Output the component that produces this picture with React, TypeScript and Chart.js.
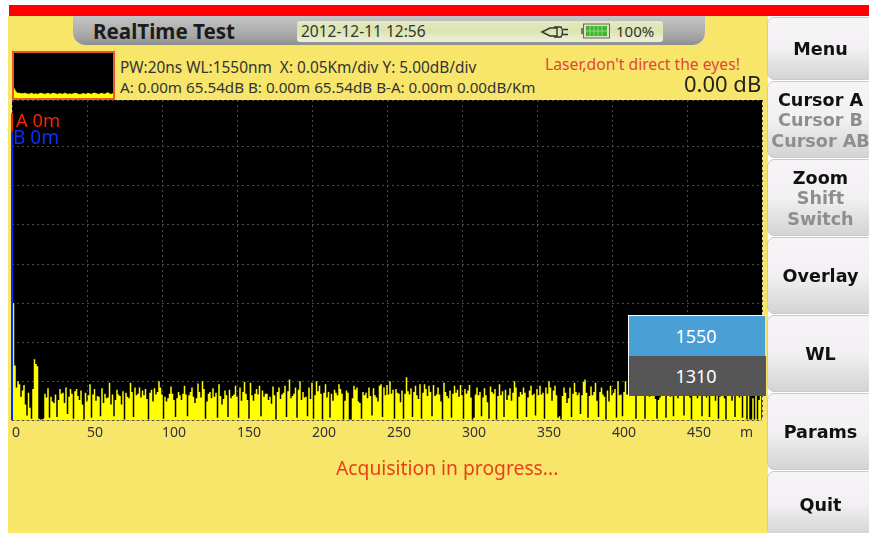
import React, { useEffect, useRef } from "react";
import { Chart, registerables } from "chart.js";

Chart.register(...registerables);

const traceDb = [
  15.2, 15, 7, 4.2, 5, 4.6, 3, 3.8, 4.5, 2, 0.6, 3.5, 1.6, 0.2, 4, 7.8, 7.2, 6.9, 0.2, 0.1,
  0.1, 0.2, 3.4, 2.9, 4.1, 0.3, 3, 2.4, 2.2, 3.3, 0.4, 2.6, 4, 3.4, 3.5, 2.2, 4.2, 0.8, 3, 4,
  3.4, 0.2, 3.7, 4, 3.1, 2.6, 3.8, 2, 0.1, 3.5, 2.4, 3.2, 4.6, 0.3, 3.3, 4, 2.5, 3.1, 3, 0.5,
  4.1, 2.2, 3.4, 2.8, 2.9, 4.8, 2, 3.3, 0.5, 2.6, 3.9, 3.3, 3.1, 2, 3.7, 0.1, 3.5, 3, 2.8, 4.8,
  3.6, 0.4, 4.2, 3.2, 3.4, 4.2, 2.9, 3.8, 3.2, 4, 2.7, 0.1, 3.5, 3.9, 2.4, 4.1, 3.3, 3.6, 5, 4.2,
  3.3, 0.2, 3, 2.4, 2.8, 3.4, 4.3, 3.4, 2.6, 0.4, 2.8, 3.6, 3.2, 2.6, 3.4, 4.4, 3.3, 0.5, 3.2, 3.6,
  4.2, 3, 2.2, 2.8, 4.7, 3.6, 2.9, 5, 4, 0.2, 2.4, 3.4, 3.6, 2.8, 4.1, 3, 3.5, 0.3, 4.6, 3.1,
  2, 2.7, 3.8, 3.2, 0.4, 3.9, 2.8, 3.1, 3.3, 4.4, 3, 0.3, 4.2, 2.5, 3.6, 4.9, 3.4, 2.6, 0.2, 4.8,
  3.2, 2.5, 3.4, 4, 3.3, 4.4, 0.5, 3.8, 3, 3.4, 3.4, 2.6, 3, 2.1, 4.3, 3.2, 0.1, 3.6, 4.2, 2.7,
  3.3, 3.5, 4.4, 0.4, 3.7, 5.2, 2.8, 3.1, 3.4, 4.2, 0.3, 3.9, 5, 2.6, 3.6, 2.9, 3, 0.5, 4.2, 2.7,
  4.8, 0.2, 3.2, 5, 3.7, 4.4, 3.4, 0.1, 3.5, 4.6, 2.9, 3.6, 0.3, 3.4, 2.5, 3.9, 3.5, 3.2, 4.6, 4,
  3.4, 0.1, 2.5, 3.8, 3.5, 0.1, 0.1, 2.8, 4.4, 3.9, 4.2, 2.4, 2.2, 0.2, 3.6, 3.2, 3.5, 2.8, 4.2, 3.1,
  0.6, 4.1, 3.2, 2.9, 2.4, 4.4, 4.6, 0.4, 4.2, 3.2, 4.5, 3.3, 5, 3.4, 3.9, 0.2, 4, 3.5, 3.4, 2.3,
  3.8, 0.2, 3.4, 5.5, 3.7, 3.3, 4.1, 0.4, 3.6, 4.4, 3.2, 2.7, 4.6, 0.2, 3.5, 4.6, 4, 3.1, 4.4, 3.6,
  0.5, 4.5, 3.1, 3.3, 4.2, 3.3, 2.4, 0.1, 4.8, 3.6, 3.1, 2.8, 3.8, 0.3, 3.4, 4.4, 3.5, 3.9, 3, 4.5,
  3.2, 0.2, 4, 3.4, 3.8, 4.5, 2.9, 0.1, 0.3, 3.3, 4.2, 3.2, 3.6, 0.5, 2.9, 4.1, 3.2, 2.3, 0.2, 4.3,
  3.6, 3.4, 4, 0.1, 3.1, 4.6, 3.2, 3.7, 0.4, 3.9, 2.6, 3.2, 4.1, 2.5, 3.5, 5, 4.2, 0.2, 3, 3.6,
  3.3, 4.2, 3.5, 0.4, 2.9, 3.8, 4.4, 3.2, 3.4, 0.6, 4, 3.2, 4.4, 3.3, 3.5, 0.2, 4.2, 3.4, 5, 4.2,
  2.5, 3.8, 4.4, 3.2, 0.3, 0.5, 0.1, 3.1, 4.2, 3.5, 2.2, 2.8, 4.2, 0.4, 3.4, 4.8, 3.6, 3.2, 3.5, 0.8,
  3.2, 4.9, 5.2, 3.5, 0.3, 3.1, 4.3, 3.2, 3.6, 4.8, 2.5, 0.4, 3.6, 4.2, 3.3, 3, 0.1, 3.8, 2.4, 4.4,
  3.2, 3.5, 4, 0.3, 5, 3.2, 3.3, 0.5, 3.6, 5, 3.3, 3.2, 3.9, 4, 5.8, 4.5, 0.2, 3.4, 4.8, 3.4, 4.2,
  3.3, 0.2, 4.4, 3.3, 3, 3.6, 3.4, 3.9, 2.7, 0.2, 2.6, 2.9, 3.6, 3.1, 3.2, 0.3, 3.5, 3.4, 3, 3.7,
  0.5, 3.4, 3.1, 2.8, 3.8, 3.2, 3.3, 0.6, 3.1, 3.3, 3.6, 2.9, 0.1, 3.4, 3.3, 3.7, 2.8, 3.2, 3.2, 0.5,
  3.5, 3.1, 2.9, 3.6, 0.4, 3.1, 3.3, 3.4, 2.5, 3.7, 0.2, 3, 3.4, 3.5, 2.8, 0.1, 3.3, 3.3, 3.6, 2.5,
  3.2, 0.4, 3.7, 3.1, 2.9, 3.4, 0.3, 3.5, 3.5, 0.1, 3.1, 0.1, 0.1, 2.8, 0.1, 3.3, 0.1, 2.6, 3.2, 0.1,
];

const overviewDb = [
  9, 6, 4.5, 4.5, 4, 4, 4.5, 4, 3.5, 4, 4.5, 3.5, 4, 3.5, 4, 4.5, 4, 3.5, 4, 4.5,
  3.5, 4, 4.5, 4, 3.5, 4, 4, 3.5, 4.5, 4, 3.5, 4, 3.5, 4, 4.5, 4, 3.5, 3.5, 4, 4,
  3.5, 4.5, 4, 3.5, 4.5, 4.5, 4, 3.5, 4, 4.5, 3.5, 4, 5, 4, 3.5, 4,
];

const cursorA = [39.3, 37];
const cursorB = [37, 0];
const wavelengths = ["1550", "1310"];
const buttons = [
  { top: 17, h: 63, lines: [{ t: "Menu", on: true }] },
  { top: 81, h: 77, lines: [{ t: "Cursor A", on: true }, { t: "Cursor B", on: false }, { t: "Cursor AB", on: false }] },
  { top: 159, h: 77, lines: [{ t: "Zoom", on: true }, { t: "Shift", on: false }, { t: "Switch", on: false }] },
  { top: 237, h: 77, lines: [{ t: "Overlay", on: true }] },
  { top: 315, h: 77, lines: [{ t: "WL", on: true }] },
  { top: 393, h: 77, lines: [{ t: "Params", on: true }] },
  { top: 471, h: 66, lines: [{ t: "Quit", on: true }] },
];

const UI = '"Noto Sans", "Open Sans", sans-serif';
const YEL = "#f8e66a";

const blackPlot = {
  id: "blackPlot",
  beforeDraw(c: any) {
    const a = c.chartArea;
    c.ctx.save();
    c.ctx.fillStyle = "#000";
    c.ctx.fillRect(a.left, a.top, a.right - a.left, a.bottom - a.top);
    c.ctx.restore();
  },
};

function T(p: { x: number; y: number; s: number; c?: string; b?: boolean; f?: string; text: string }) {
  return (
    <div
      style={{
        position: "absolute",
        left: p.x,
        top: p.y,
        fontSize: p.s,
        lineHeight: 1,
        color: p.c || "#222",
        fontWeight: p.b ? 700 : 400,
        fontFamily: p.f || UI,
        whiteSpace: "pre",
      }}
    >
      {p.text}
    </div>
  );
}

export default function App() {
  const mainRef = useRef<HTMLCanvasElement>(null);
  const miniRef = useRef<HTMLCanvasElement>(null);

  useEffect(() => {
    const main = new Chart(mainRef.current!, {
      type: "line",
      data: {
        datasets: [
          {
            data: traceDb.map((v, i) => ({ x: i, y: v })),
            borderColor: "#ffff00",
            backgroundColor: "#ffff00",
            borderWidth: 0,
            fill: "origin",
            pointRadius: 0,
            stepped: "middle",
            order: 3,
          },
          {
            data: cursorA.map((v) => ({ x: 0, y: v })),
            borderColor: "#ff2000",
            borderWidth: 2,
            pointRadius: 0,
            clip: false,
            order: 2,
          },
          {
            data: cursorB.map((v) => ({ x: 0, y: v })),
            borderColor: "#0030ff",
            borderWidth: 2,
            pointRadius: 0,
            clip: false,
            order: 1,
          },
        ],
      } as any,
      options: {
        animation: false,
        responsive: false,
        events: [],
        layout: { padding: { left: 12, top: 100, right: 107, bottom: 88 } },
        plugins: { legend: { display: false }, tooltip: { enabled: false } },
        scales: {
          x: {
            type: "linear",
            min: 0,
            max: 500,
            border: { display: false, dash: [2, 3] },
            grid: { color: "#4a4a4a", lineWidth: 1, drawTicks: false },
            ticks: {
              stepSize: 50,
              align: "start",
              autoSkip: false,
              maxRotation: 0,
              padding: 4,
              color: "#333",
              font: { family: UI, size: 14 },
              callback: (v: any) => (v === 500 ? "" : String(v)),
            },
          },
          y: {
            type: "linear",
            min: 0,
            max: 41,
            border: { display: false, dash: [2, 3] },
            grid: { color: "#4a4a4a", lineWidth: 1, drawTicks: false },
            ticks: { stepSize: 5, display: false },
          },
        },
      } as any,
      plugins: [blackPlot],
    });

    const mini = new Chart(miniRef.current!, {
      type: "line",
      data: {
        labels: overviewDb.map((_, i) => i),
        datasets: [
          {
            data: overviewDb,
            borderColor: "#ffff00",
            backgroundColor: "#ffff00",
            borderWidth: 0.5,
            fill: "origin",
            pointRadius: 0,
          },
        ],
      },
      options: {
        animation: false,
        responsive: false,
        events: [],
        plugins: { legend: { display: false }, tooltip: { enabled: false } },
        scales: {
          x: { display: false, offset: false },
          y: { display: false, min: 0, max: 41 },
        },
      } as any,
      plugins: [blackPlot],
    });

    return () => {
      main.destroy();
      mini.destroy();
    };
  }, []);

  return (
    <div style={{ position: "fixed", inset: 0, background: "#fff", overflow: "hidden" }}>
      <div style={{ position: "absolute", left: 8, top: 16, width: 760, height: 517, background: YEL }} />
      <div style={{ position: "absolute", left: 9, top: 5, width: 860, height: 11, background: "#ff0000" }} />

      <div
        style={{
          position: "absolute",
          left: 73,
          top: 16,
          width: 632,
          height: 29,
          borderRadius: "0 0 13px 13px",
          background: "linear-gradient(#c4c4c4, #a6a6a6 70%, #8e8e8e)",
          borderBottom: "1px solid #e8e2a8",
        }}
      />
      <T x={93} y={21} s={20.6} b c="#1c1c1c" text="RealTime Test" />
      <div
        style={{
          position: "absolute",
          left: 297,
          top: 21,
          width: 366,
          height: 21,
          borderRadius: 3,
          background: "linear-gradient(#e6e9c8, #dbe4ad 45%, #eef0dc)",
        }}
      />
      <T x={301} y={24} s={15.5} c="#333" text="2012-12-11 12:56" />
      <svg style={{ position: "absolute", left: 540, top: 23 }} width="32" height="18" viewBox="0 0 32 18" fill="none" stroke="#333" strokeWidth="1.4">
        <path d="M2 9 L10 5 H17 V13 H10 Z" />
        <path d="M14 4 H21 Q24 9 21 14 H14" />
        <path d="M23 6.5 H28 M23 11.5 H28" />
      </svg>
      <svg style={{ position: "absolute", left: 581, top: 23 }} width="30" height="16" viewBox="0 0 30 16">
        <rect x="0" y="5" width="2" height="6" fill="#777" />
        <rect x="2.5" y="1" width="26" height="14" fill="#d9e3c0" stroke="#6a6a5a" />
        <rect x="5" y="3" width="21" height="10" fill="#3db52e" />
        <path d="M9 3V13M13 3V13M17 3V13M21 3V13M5 8H26" stroke="#b6e6a0" strokeWidth="0.7" />
      </svg>
      <T x={616} y={24} s={15} c="#333" text="100%" />

      <div style={{ position: "absolute", left: 12, top: 51, width: 99, height: 45, border: "2px solid #e8582a" }}>
        <canvas ref={miniRef} width={99} height={45} style={{ display: "block" }} />
      </div>

      <T x={120} y={60} s={15.4} c="#333" text="PW:20ns WL:1550nm  X: 0.05Km/div Y: 5.00dB/div" />
      <T x={120} y={80} s={15.2} c="#333" text="A: 0.00m 65.54dB B: 0.00m 65.54dB B-A: 0.00m 0.00dB/Km" />
      <T x={545} y={57} s={15.7} c="#e0463c" text="Laser,don't direct the eyes!" />
      <T x={684} y={72} s={22} c="#222" text="0.00 dB" />

      <canvas ref={mainRef} width={869} height={533} style={{ position: "absolute", left: 0, top: 0 }} />

      <T x={16} y={111} s={18.4} c="#ff2000" text="A 0m" />
      <T x={13} y={128} s={19} c="#0a30ff" text="B 0m" />
      <T x={740} y={425} s={14} c="#333" text="m" />
      <T x={336} y={458} s={19.3} c="#e8401a" text="Acquisition in progress..." />

      <div style={{ position: "absolute", left: 628, top: 315, width: 137, height: 41, background: "#4a9fd6", borderTop: "1px solid #fff", borderLeft: "1px solid #fff", boxSizing: "border-box", color: "#fff", font: `18px ${UI}`, textAlign: "center", lineHeight: "41px", paddingRight: 2 }}>
        {wavelengths[0]}
      </div>
      <div style={{ position: "absolute", left: 628, top: 356, width: 138, height: 40, background: "#565656", borderLeft: "1px solid #fff", boxSizing: "border-box", color: "#fff", font: `18px ${UI}`, textAlign: "center", lineHeight: "40px", paddingRight: 3 }}>
        {wavelengths[1]}
      </div>

      {buttons.map((b) => (
        <div
          key={b.top}
          style={{
            position: "absolute",
            left: 767,
            top: b.top,
            width: 107,
            height: b.h,
            boxSizing: "border-box",
            borderRadius: 7,
            border: "1px solid #cfcbb8",
            background: "linear-gradient(#f7f4f7, #f2f0f2 50%, #d4d4d4)",
            display: "flex",
            flexDirection: "column",
            justifyContent: "center",
            alignItems: "center",
            paddingTop: 2,
          }}
        >
          {b.lines.map((l) => (
            <div
              key={l.t}
              style={{
                fontFamily: '"DejaVu Sans", sans-serif',
                fontWeight: 700,
                fontSize: 17.6,
                lineHeight: "20.5px",
                whiteSpace: "nowrap",
                color: l.on ? "#111" : "#8e8e8e",
              }}
            >
              {l.t}
            </div>
          ))}
        </div>
      ))}
    </div>
  );
}
